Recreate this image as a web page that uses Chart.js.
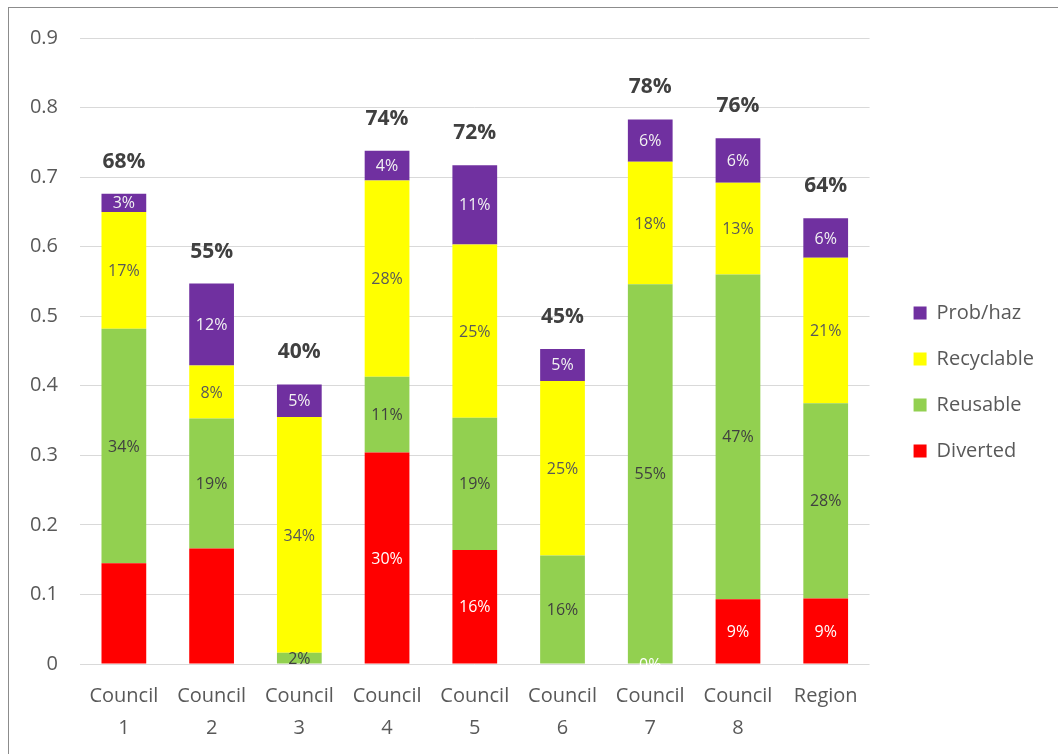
<!DOCTYPE html>
<html>
<head>
<meta charset="utf-8">
<script src="https://cdn.jsdelivr.net/npm/chart.js@4/dist/chart.umd.min.js"></script>
<style>
  html, body { margin: 0; padding: 0; background: #ffffff; overflow: hidden; }
  #wrap { position: relative; width: 1058px; height: 754px; }
  #frame { position: absolute; left: 8px; top: 7px; width: 1200px; height: 900px; border: 1px solid #8c8c8c; box-sizing: border-box; pointer-events: none; }
  canvas { position: absolute; left: 0; top: 0; }
</style>
</head>
<body>
<div id="wrap">
  <canvas id="c" width="1058" height="754"></canvas>
  <div id="frame"></div>
</div>
<script>
// ---- data ----
const categories = [["Council", "1"], ["Council", "2"], ["Council", "3"], ["Council", "4"], ["Council", "5"], ["Council", "6"], ["Council", "7"], ["Council", "8"], "Region"];
const diverted   = [0.145, 0.166, null,  0.304, 0.164, null,  0,     0.093, 0.094];
const reusable   = [0.337, 0.187, 0.016, 0.109, 0.190, 0.156, 0.546, 0.467, 0.281];
const recyclable = [0.168, 0.076, 0.339, 0.282, 0.249, 0.251, 0.176, 0.132, 0.209];
const probHaz    = [0.026, 0.118, 0.047, 0.043, 0.114, 0.046, 0.061, 0.064, 0.057];
const yTicks     = [0, 0.1, 0.2, 0.3, 0.4, 0.5, 0.6, 0.7, 0.8, 0.9];
// segment labels not shown in the original (Diverted, Council 1 and 2)
const hiddenDivertedLabels = [0, 1];

const FONT = "'Open Sans', 'Noto Sans', sans-serif";
const pct = v => Math.round(v * 100) + '%';

const labelPlugin = {
  id: 'segLabels',
  afterDatasetsDraw(chart) {
    const ctx = chart.ctx;
    const colors = ['#ffffff', '#404040', '#595959', '#f2f2f2'];
    ctx.save();
    ctx.textAlign = 'center';
    ctx.textBaseline = 'middle';
    ctx.font = '16px ' + FONT;
    chart.data.datasets.forEach((ds, di) => {
      const meta = chart.getDatasetMeta(di);
      meta.data.forEach((el, i) => {
        const v = ds.data[i];
        if (v === null || v === undefined) return;
        if (di === 0 && hiddenDivertedLabels.includes(i)) return;
        ctx.fillStyle = colors[di];
        ctx.fillText(pct(v), el.x, (el.y + el.base) / 2 + 1);
      });
    });
    // totals
    ctx.font = 'bold 21px ' + FONT;
    ctx.fillStyle = '#404040';
    const yScale = chart.scales.y;
    const xScale = chart.scales.x;
    categories.forEach((c, i) => {
      let sum = 0;
      chart.data.datasets.forEach(ds => { sum += ds.data[i] || 0; });
      const top = yScale.getPixelForValue(sum);
      ctx.fillText(pct(sum), xScale.getPixelForValue(i), top - 32);
    });
    ctx.restore();
  }
};

new Chart(document.getElementById('c'), {
  type: 'bar',
  data: {
    labels: categories,
    datasets: [
      { label: 'Diverted',   data: diverted,   backgroundColor: '#ff0000' },
      { label: 'Reusable',   data: reusable,   backgroundColor: '#92d050' },
      { label: 'Recyclable', data: recyclable, backgroundColor: '#ffff00' },
      { label: 'Prob/haz',   data: probHaz,    backgroundColor: '#7030a0' }
    ]
  },
  options: {
    responsive: false,
    animation: false,
    devicePixelRatio: 1,
    layout: { padding: { left: 8, top: 10, right: 14, bottom: 0 } },
    datasets: { bar: { categoryPercentage: 1, barPercentage: 0.51 } },
    scales: {
      x: {
        stacked: true,
        grid: { display: false, drawTicks: false },
        border: { display: false },
        ticks: { color: '#595959', font: { family: FONT, size: 20, lineHeight: 1.6 }, padding: 16, maxRotation: 0, autoSkip: false },
        afterFit(s) { s.height = 90; }
      },
      y: {
        stacked: true,
        min: 0, max: 0.9,
        afterBuildTicks(s) { s.ticks = yTicks.map(v => ({ value: v })); },
        grid: { color: '#d9d9d9', lineWidth: 1, drawTicks: false },
        border: { display: false },
        ticks: { color: '#595959', font: { family: FONT, size: 20 }, padding: 22, callback: v => String(v) },
        afterFit(s) { s.width = 72; }
      },
      gapRight: {
        type: 'linear', position: 'right', display: true,
        grid: { display: false, drawOnChartArea: false, drawTicks: false },
        border: { display: false },
        ticks: { display: false },
        afterFit(s) { s.width = 18; }
      },
      gapTop: {
        type: 'linear', position: 'top', display: true,
        grid: { display: false, drawOnChartArea: false, drawTicks: false },
        border: { display: false },
        ticks: { display: false },
        afterFit(s) { s.height = 28; }
      }
    },
    plugins: {
      legend: {
        position: 'right',
        reverse: true,
        labels: { boxWidth: 13, boxHeight: 13, padding: 26, color: '#595959', font: { family: FONT, size: 20 } }
      },
      tooltip: { enabled: false }
    }
  },
  plugins: [labelPlugin]
});
</script>
</body>
</html>
